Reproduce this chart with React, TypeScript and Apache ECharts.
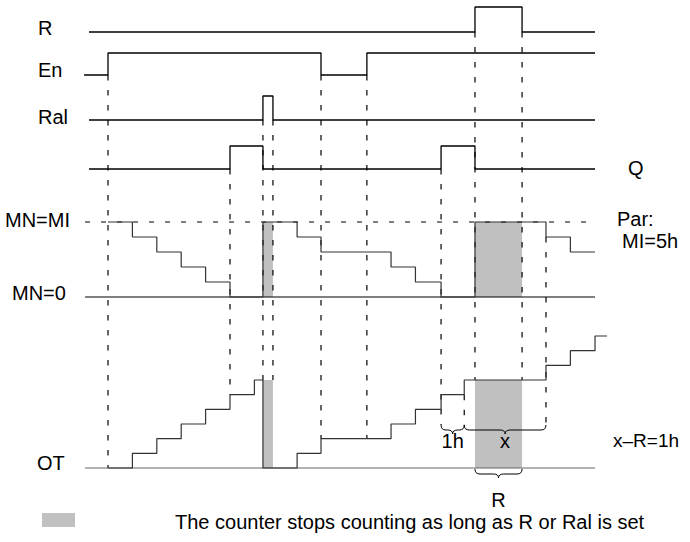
import React, { useEffect, useRef } from "react";
import * as echarts from "echarts";

// ---------- data (time in hours, levels in signal units) ----------
const R_SIGNAL = [[-0.78, 0], [15.04, 1], [16.97, 0], [19.96, 0]];
const EN_SIGNAL = [[-0.98, 0], [0, 1], [8.73, 0], [10.61, 1], [19.96, 1]];
const RAL_SIGNAL = [[-0.78, 0], [6.35, 1], [6.76, 0], [19.96, 0]];
const Q_SIGNAL = [[-0.78, 0], [5, 1], [6.35, 0], [13.65, 1], [15.04, 0], [19.96, 0]];
const MN_VALUES = [
  [0, 5], [1, 4], [2, 3], [3, 2], [4, 1], [5, 0], [6.35, 5], [7.75, 4], [8.73, 3],
  [11.6, 2], [12.6, 1], [13.65, 0], [15.04, 5], [17.95, 4], [18.95, 3], [19.96, 3],
];
const OT_VALUES = [
  [0, 0], [1, 1], [2, 2], [3, 3], [4, 4], [5, 5], [6, 6], [6.35, 0], [7.75, 1], [8.73, 2],
  [11.6, 3], [12.6, 4], [13.65, 5], [14.6, 6], [17.95, 7], [18.95, 8], [19.96, 9], [20.45, 9],
];
const STOP_INTERVALS = [[6.35, 6.76], [15.04, 16.97]];
const OT_HELD = [6, 6];
const MI_HOURS = 5;
const REF_SPAN = [-0.94, 19.96];
// [time, from lane, from level, to lane, to level]
const MARKERS: [number, string, number, string, number][] = [
  [0, "En", 0, "OT", 0],
  [5, "Q", 0, "OT", 5],
  [6.35, "Ral", 0, "OT", 6],
  [6.76, "Ral", 0, "OT", 6],
  [8.73, "En", 0, "OT", 2],
  [10.61, "En", 0, "OT", 2],
  [13.65, "Q", 0, "BR", 0],
  [14.6, "OT", 5, "BR", 0],
  [15.04, "R", 0, "OT", 6],
  [16.97, "R", 0, "OT", 6],
  [17.95, "MN", 4, "BR", 0],
];
const BRACES = [[13.65, 14.6], [14.6, 17.95], [15.04, 16.97]];
const BRACE_LABELS = ["1h", "x", "R"];
const BRACE_ROWS = ["BR", "BR", "BRL"];
const LANE_LABELS = ["R", "En", "Ral", "MN=MI", "MN=0", "OT"];
const RIGHT_LABELS = ["Q", "Par:", "MI=5h", "x\u2013R=1h"];
const LEGEND_TEXT = "The counter stops counting as long as R or Ral is set";

// ---------- layout ----------
const W = 690;
const H = 542;
const X_MIN = -4;
const X_MAX = 22;
const PX_PER_H = 24.4;
const T0_PX = 108;
const GRID_LEFT = T0_PX + X_MIN * PX_PER_H;
const GRID_RIGHT = W - (T0_PX + X_MAX * PX_PER_H);
const LANE: Record<string, [number, number]> = {
  R: [32, 25],
  En: [75, 22],
  Ral: [120, 24],
  Q: [169, 23],
  MN: [297, 15],
  OT: [468, 132 / 9],
  BR: [425, 0],
  BRL: [469, 0],
};
const ly = (lane: string, level: number) => LANE[lane][0] - level * LANE[lane][1];
const FONT = "'Liberation Sans', Arial, Helvetica, sans-serif";
const GRAY = "#c0c0c0";
const LABEL_POS: [number, string, number, number][] = [
  [38, "R", 0, 4.5],
  [38, "En", 0, 5],
  [38, "Ral", 0, 3.5],
  [5, "MN", 5, 2.5],
  [12, "MN", 0, 4],
  [37, "OT", 0, 5.5],
];
const RIGHT_POS: [number, number, number][] = [[628, 168, 20], [617, 218.5, 20], [622, 240.5, 20], [613, 440, 19]];

function stepLine(pts: number[][], lane: string, color: string, width: number) {
  return {
    type: "line",
    step: "end",
    data: pts.map(([t, v]) => [t, ly(lane, v)]),
    symbol: "none",
    silent: true,
    z: 3,
    lineStyle: { color, width },
  };
}

function refLine(lane: string, level: number, color: string, type: any) {
  return {
    type: "line",
    data: REF_SPAN.map((t) => [t, ly(lane, level)]),
    symbol: "none",
    silent: true,
    z: 2,
    lineStyle: { color, width: 1.2, type },
  };
}

function bracePath(xa: number, xb: number, y: number) {
  const ym = y + 5;
  const yt = y + 9;
  const xm = (xa + xb) / 2;
  const r = Math.min(5, (xb - xa) / 4);
  return `M${xa} ${y} Q${xa} ${ym} ${xa + r} ${ym} L${xm - r} ${ym} Q${xm} ${ym} ${xm} ${yt} Q${xm} ${ym} ${xm + r} ${ym} L${xb - r} ${ym} Q${xb} ${ym} ${xb} ${y}`;
}

function textStyle(text: string, size: number, align: string) {
  return {
    text,
    fill: "#000",
    font: `${size}px ${FONT}`,
    align,
    verticalAlign: "middle",
    textAlign: align,
    textVerticalAlign: "middle",
  };
}

export default function App() {
  const ref = useRef<HTMLDivElement>(null);
  useEffect(() => {
    if (!ref.current) return;
    const chart = echarts.init(ref.current, undefined, { renderer: "svg" });
    const graphic: any[] = [];
    LANE_LABELS.forEach((txt, i) => {
      const [x, lane, lvl, off] = LABEL_POS[i];
      graphic.push({ type: "text", x, y: ly(lane, lvl) - off, style: textStyle(txt, 20, "left") });
    });
    RIGHT_LABELS.forEach((txt, i) => {
      const [x, y, size] = RIGHT_POS[i];
      graphic.push({ type: "text", x, y, style: textStyle(txt, size, "left") });
    });
    graphic.push({ type: "rect", shape: { x: 42, y: 513, width: 33, height: 14 }, style: { fill: GRAY } });
    graphic.push({ type: "text", x: 175, y: 522, style: textStyle(LEGEND_TEXT, 20, "left") });

    chart.setOption({
      animation: false,
      backgroundColor: "#fff",
      grid: { left: GRID_LEFT, right: GRID_RIGHT, top: 0, bottom: 0 },
      xAxis: { type: "value", min: X_MIN, max: X_MAX, show: false },
      yAxis: { type: "value", min: 0, max: H, inverse: true, show: false },
      graphic,
      series: [
        {
          type: "custom",
          z: 1,
          silent: true,
          data: STOP_INTERVALS.map(([a, b], i) => [a, b, OT_HELD[i]]),
          renderItem: (_p: any, api: any) => {
            const a = api.value(0), b = api.value(1), held = api.value(2);
            const p1 = api.coord([a, ly("MN", MI_HOURS)]);
            const p2 = api.coord([b, ly("MN", 0)]);
            const q1 = api.coord([a, ly("OT", held)]);
            const q2 = api.coord([b, ly("OT", 0)]);
            return {
              type: "group",
              children: [
                { type: "rect", shape: { x: p1[0], y: p1[1], width: p2[0] - p1[0], height: p2[1] - p1[1] }, style: { fill: GRAY } },
                { type: "rect", shape: { x: q1[0], y: q1[1], width: q2[0] - q1[0], height: q2[1] - q1[1] }, style: { fill: GRAY } },
              ],
            };
          },
        },
        refLine("MN", MI_HOURS, "#000", [5, 11]),
        refLine("MN", 0, "#000", "solid"),
        refLine("OT", 0, "#666", "solid"),
        stepLine(R_SIGNAL, "R", "#000", 1.3),
        stepLine(EN_SIGNAL, "En", "#000", 1.3),
        stepLine(RAL_SIGNAL, "Ral", "#000", 1.3),
        stepLine(Q_SIGNAL, "Q", "#000", 1.3),
        stepLine(MN_VALUES, "MN", "#333", 1.2),
        stepLine(OT_VALUES, "OT", "#333", 1.2),
        {
          type: "custom",
          z: 2,
          silent: true,
          data: MARKERS.map(([t, l1, v1, l2, v2]) => [t, ly(l1, v1), ly(l2, v2)]),
          renderItem: (_p: any, api: any) => {
            const a = api.coord([api.value(0), api.value(1)]);
            const b = api.coord([api.value(0), api.value(2)]);
            return {
              type: "line",
              shape: { x1: a[0], y1: a[1], x2: b[0], y2: b[1] },
              style: { stroke: "#000", lineWidth: 1.2, lineDash: [5.5, 9.5] },
            };
          },
        },
        {
          type: "custom",
          z: 3,
          silent: true,
          data: BRACES.map(([a, b], i) => [a, ly(BRACE_ROWS[i], 0), b, i]),
          renderItem: (_p: any, api: any) => {
            const i = api.value(3);
            const a = api.coord([api.value(0), api.value(1)]);
            const b = api.coord([api.value(2), api.value(1)]);
            const below = BRACE_ROWS[i] === "BRL";
            return {
              type: "group",
              children: [
                {
                  type: "path",
                  shape: { pathData: bracePath(a[0], b[0], a[1]) },
                  style: { stroke: "#000", fill: "none", lineWidth: 1 },
                },
                {
                  type: "text",
                  x: (a[0] + b[0]) / 2,
                  y: a[1] + (below ? 31 : 16),
                  style: textStyle(BRACE_LABELS[i], 20, "center"),
                },
              ],
            };
          },
        },
      ],
    });
    return () => chart.dispose();
  }, []);
  return (
    <div
      ref={ref}
      style={{ position: "absolute", left: 0, top: 0, width: W, height: H, background: "#fff" }}
    />
  );
}
